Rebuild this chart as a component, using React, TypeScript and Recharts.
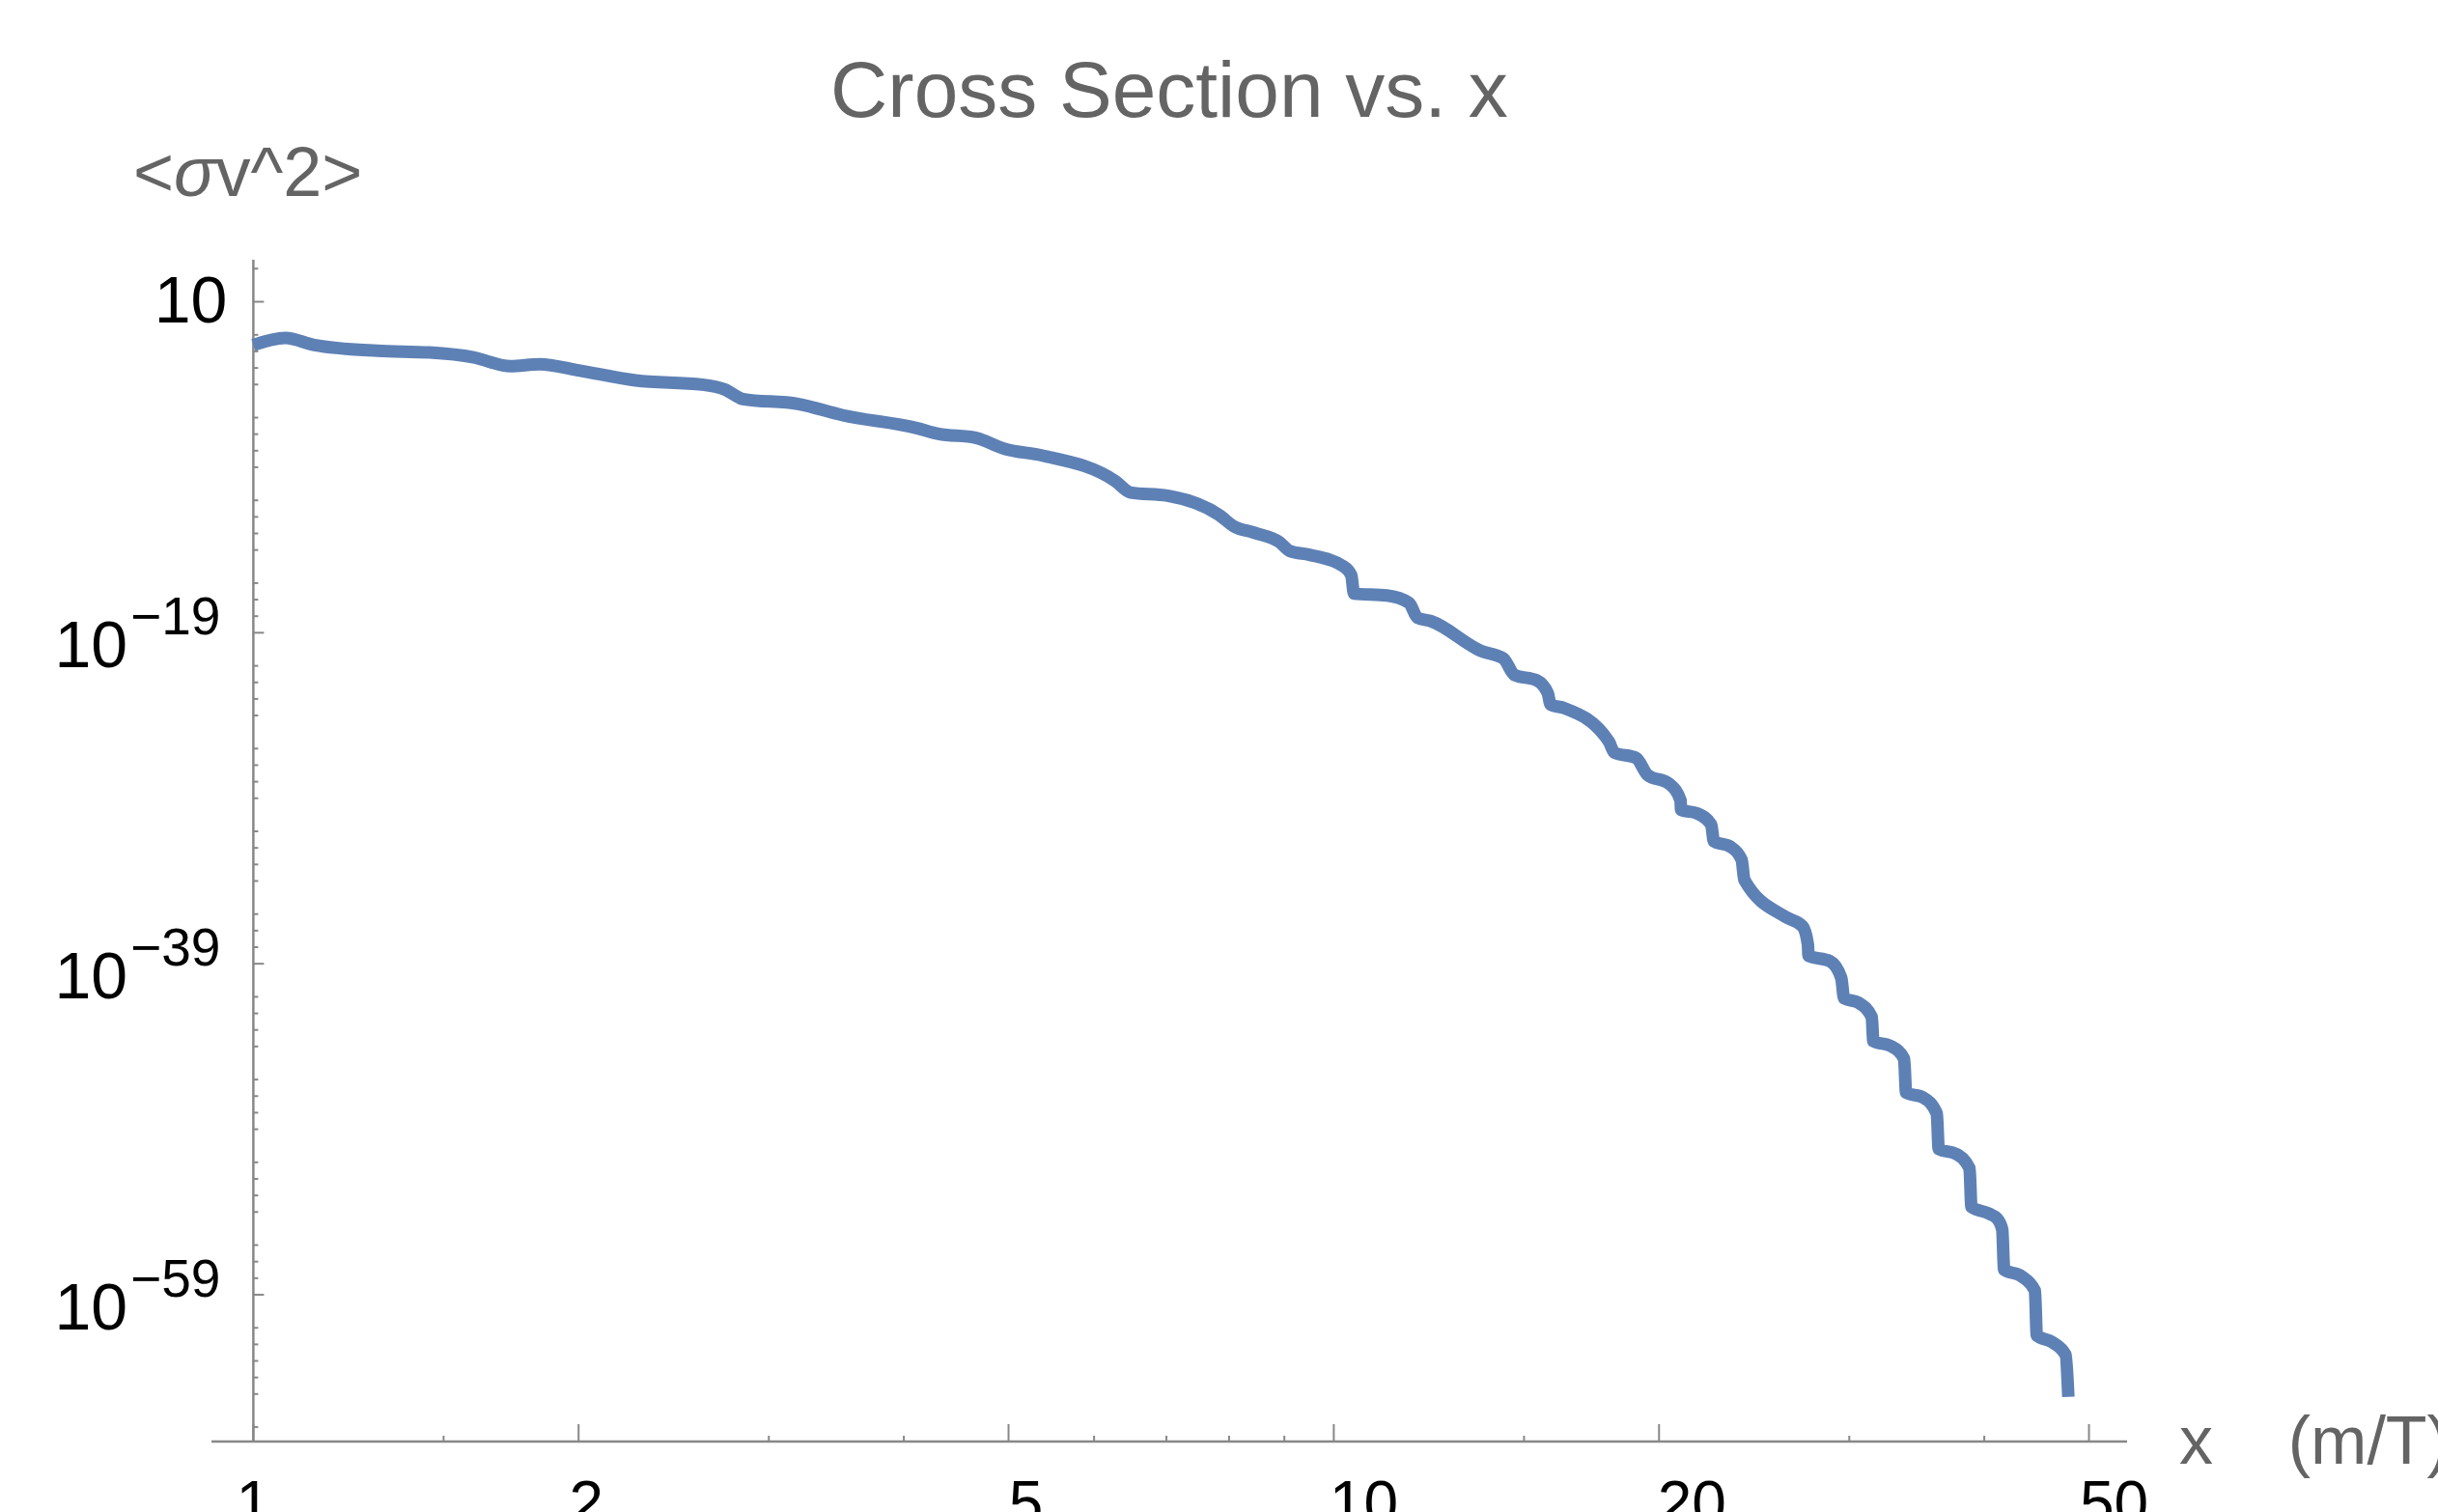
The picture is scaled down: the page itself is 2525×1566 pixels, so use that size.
import React from 'react';
import { ComposedChart, Line, XAxis, YAxis, ReferenceLine, Scatter } from 'recharts';

// x = m/T
const xValues = [
  1, 1.0704, 1.139, 1.302, 1.455, 1.599, 1.729, 1.842, 1.993, 2.259,
  2.604, 2.731, 2.839, 3.192, 3.509, 4.111, 4.307, 4.659, 4.962, 5.37,
  6.279, 6.484, 7.015, 7.832, 8.081, 8.441, 8.901, 9.113, 9.497, 10.19,
  10.38, 10.44, 11.2, 11.74, 11.95, 12.31, 13.69, 14.35, 14.7, 15.41,
  15.78, 15.87, 16.35, 17.97, 18.18, 19.05, 19.51, 20.45, 20.94, 20.96,
  21.7, 22.35, 22.48, 23.29, 23.85, 23.99, 26.2, 27.15, 27.47, 27.5,
  28.8, 29.49, 29.67, 30.58, 31.47, 31.58, 32.77, 33.72, 33.86, 35.13,
  36.15, 36.3, 37.66, 38.76, 38.92, 40.38, 41.11, 41.56, 41.73, 43.29,
  44.56, 44.74, 46.24, 47.57, 47.85,
];

// <sigma v^2>
const yValues = [
  2.43e-2, 6.49e-2, 2.43e-2, 1.09e-2, 8.65e-3, 4.42e-3, 1.27e-3, 1.66e-3, 7.4e-4, 1.76e-4,
  9.86e-5, 5.04e-5, 1.32e-5, 6.71e-6, 1.4e-6, 2.34e-7, 1.04e-7, 6.1e-8, 1.27e-8, 5.15e-9,
  1.45e-10, 3.0e-11, 1.93e-11, 1.31e-12, 2.72e-13, 1.11e-13, 3.09e-14, 8.51e-15, 5.13e-15, 1.1e-15,
  3.0e-16, 2.29e-17, 1.78e-17, 6.35e-18, 8.13e-19, 4.9e-19, 7.94e-21, 2.82e-21, 2.82e-22, 1.32e-22,
  2.19e-23, 4.62e-24, 2.75e-24, 2.69e-26, 5.75e-27, 2.69e-27, 2.63e-28, 7.24e-29, 7.24e-30, 2.0e-30,
  1.2e-30, 2.57e-31, 2.51e-32, 1.17e-32, 1.91e-33, 1.15e-34, 6.61e-37, 1.86e-37, 1.41e-38, 3.02e-39,
  1.41e-39, 1.38e-40, 8.13e-42, 4.47e-42, 6.03e-43, 2.09e-44, 1.07e-44, 1.78e-45, 1.62e-47, 8.13e-48,
  8.91e-49, 6.31e-51, 3.24e-51, 4.37e-52, 2.0e-54, 8.13e-55, 3.98e-55, 8.71e-56, 3.24e-58, 1.32e-58,
  1.74e-59, 3.39e-62, 1.35e-62, 2.29e-63, 6.76e-66,
];

const xMajorTicks = [1, 2, 5, 10, 20, 50];
const xMinorTicks = [1.5, 3, 4, 6, 7, 8, 9, 15, 30, 40];
const yMajorExponents = [1, -19, -39, -59];
const yMinorExponents = [
  3, -1, -2, -3, -4, -6, -7, -8, -9, -11, -12, -13, -14, -16, -17, -18,
  -21, -22, -23, -24, -26, -27, -28, -29, -31, -32, -33, -34, -36, -37, -38,
  -41, -42, -43, -44, -46, -47, -48, -49, -51, -52, -53, -54, -56, -57, -58,
  -61, -62, -63, -64, -65, -67,
];

const X_DOMAIN: [number, number] = [0.9146, 54.23];
const Y_DOMAIN: [number, number] = [Math.pow(10, -67.87), Math.pow(10, 3.54)];

// horizontal nudge of the bottom tick labels, as they sit in the reference
const X_LABEL_NUDGE: Record<number, number> = { 1: 0, 2: 8, 5: 18, 10: 31, 20: 34, 50: 26 };

const curve = xValues.map((x, i) => ({ x, y: yValues[i] }));
const yTickData = [
  ...yMajorExponents.map((e) => ({ x: 1, y: Math.pow(10, e), e, major: true })),
  ...yMinorExponents.map((e) => ({ x: 1, y: Math.pow(10, e), e, major: false })),
];
const xTicks = [...xMajorTicks, ...xMinorTicks].sort((a, b) => a - b);

const AXIS = '#888888';
const FONT = '"Liberation Sans", Arial, Helvetica, sans-serif';
const LINE_COLOR = '#5E81B5';

const XTick = (props: any) => {
  const { x, y, payload } = props;
  const v = payload.value;
  const major = xMajorTicks.includes(v);
  return (
    <g>
      <line x1={x} x2={x} y1={y} y2={y - (major ? 18 : 6)} stroke={AXIS} strokeWidth={2} />
      {major && (
        <text
          x={x + (X_LABEL_NUDGE[v] || 0)}
          y={y + 86}
          textAnchor="middle"
          fontSize={64}
          fontFamily={FONT}
          fill="#000"
        >
          {String(v)}
        </text>
      )}
    </g>
  );
};

const YTickShape = (props: any) => {
  const { cx, cy, payload } = props;
  if (cx == null || cy == null) return null;
  const major = payload.major;
  const e = payload.e;
  return (
    <g>
      <line x1={cx} x2={cx + (major ? 11 : 5)} y1={cy} y2={cy} stroke={AXIS} strokeWidth={2} />
      {major && e === 1 && (
        <text x={cx - 27} y={cy + 21} textAnchor="end" fontSize={68} fontFamily={FONT} fill="#000">
          10
        </text>
      )}
      {major && e !== 1 && (
        <text x={cx - 34} y={cy + 36} textAnchor="end" fontSize={68} fontFamily={FONT} fill="#000">
          10
          <tspan dx={3} dy={-34} fontSize={55}>
            {'\u2212' + String(Math.abs(e))}
          </tspan>
        </text>
      )}
    </g>
  );
};

export default function App() {
  return (
    <div style={{ position: 'absolute', left: 0, top: 0, width: 2525, height: 1566, background: '#fff' }}>
      <ComposedChart
        width={2525}
        height={1566}
        margin={{ top: 269, right: 322, bottom: 0, left: 219 }}
      >
        <XAxis
          dataKey="x"
          type="number"
          scale="log"
          domain={X_DOMAIN}
          ticks={xTicks}
          interval={0}
          height={73}
          tickSize={0}
          tickMargin={0}
          tickLine={false}
          axisLine={{ stroke: AXIS, strokeWidth: 2.5 }}
          tick={XTick}
        />
        <YAxis
          dataKey="y"
          type="number"
          scale="log"
          domain={Y_DOMAIN}
          hide
        />
        <ReferenceLine x={1} stroke={AXIS} strokeWidth={2.5} ifOverflow="visible" />
        <Scatter
          data={yTickData}
          dataKey="y"
          isAnimationActive={false}
          shape={YTickShape}
        />
        <Line
          data={curve}
          dataKey="y"
          type="monotone"
          stroke={LINE_COLOR}
          strokeWidth={13}
          strokeLinecap="butt"
          strokeLinejoin="round"
          dot={false}
          activeDot={false}
          isAnimationActive={false}
        />
      </ComposedChart>
      <svg
        width={2525}
        height={1566}
        style={{ position: 'absolute', left: 0, top: 0, pointerEvents: 'none' }}
      >
        <text x={1211} y={121} textAnchor="middle" fontSize={82} fontFamily={FONT} fill="#646464">
          Cross Section vs. x
        </text>
        <text x={138} y={203} fontSize={72} fontFamily={FONT} fill="#646464">
          {'<'}
          <tspan fontStyle="italic">σ</tspan>
          {'v^2>'}
        </text>
        <text x={2257} y={1516} fontSize={70} fontFamily={FONT} fill="#646464" style={{ whiteSpace: 'pre' }}>
          {'x    (m/T)'}
        </text>
      </svg>
    </div>
  );
}
